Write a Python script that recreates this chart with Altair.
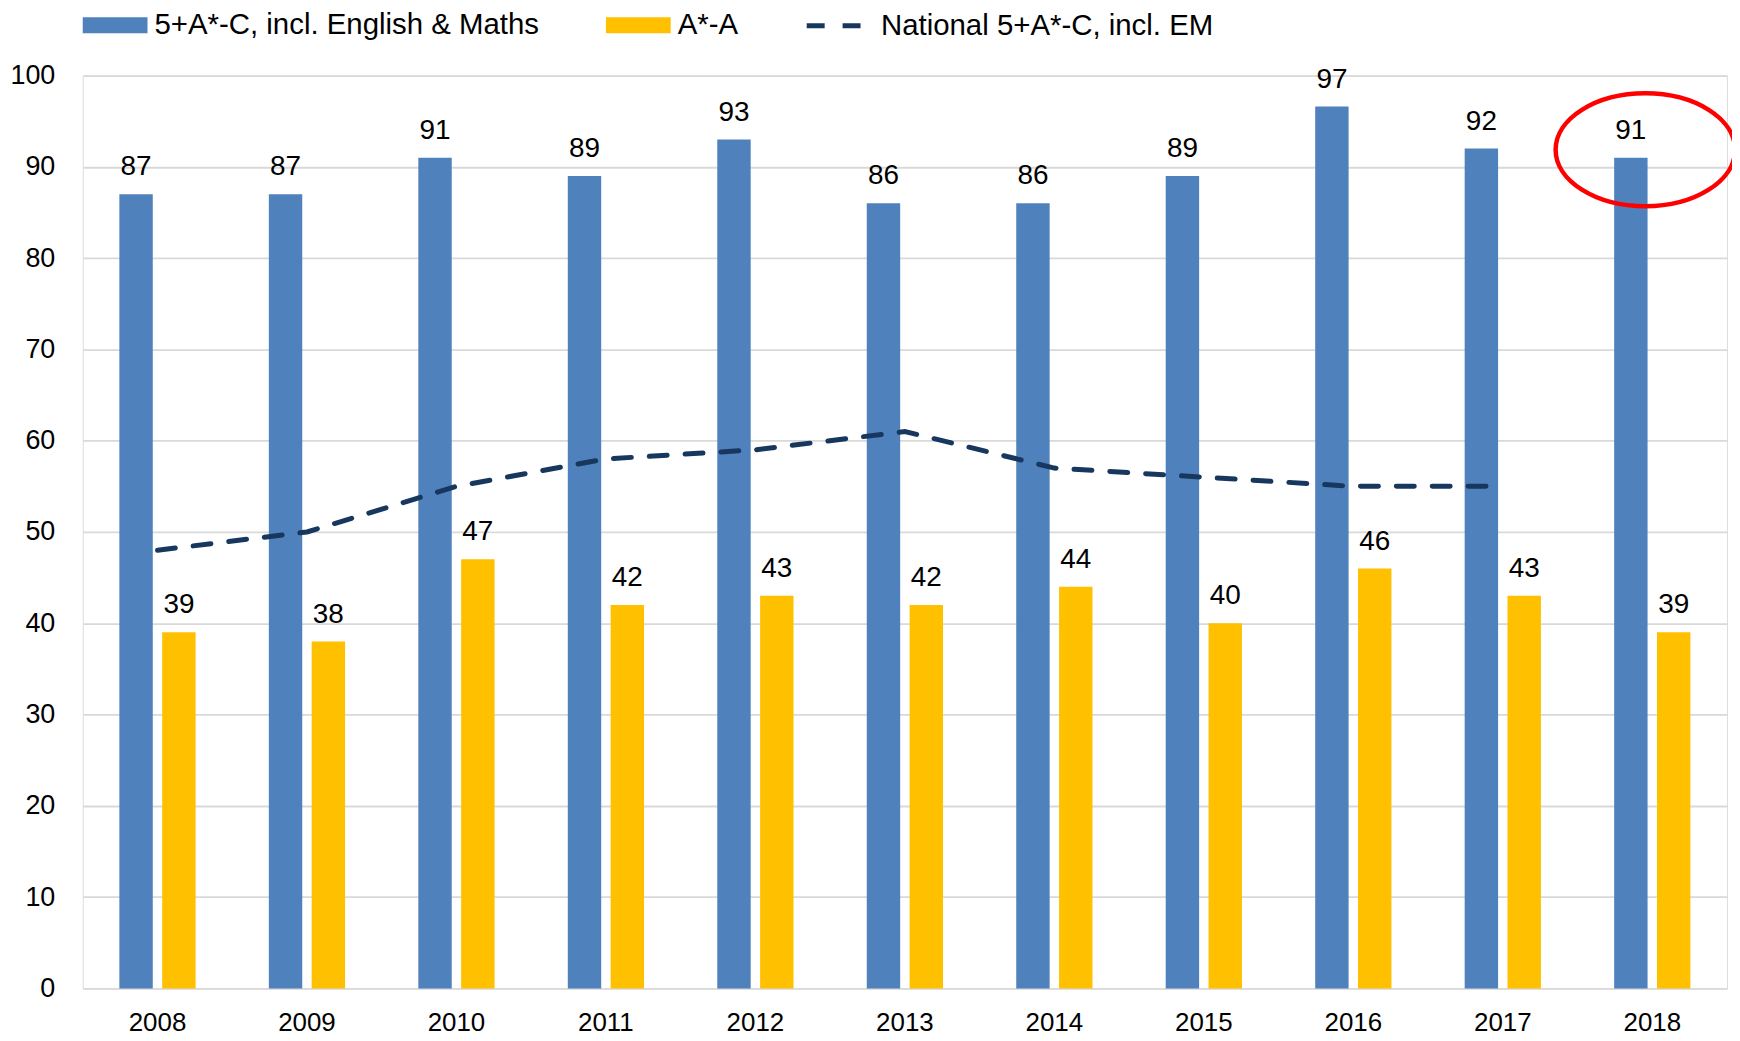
import altair as alt
import pandas as pd

years = ["2008", "2009", "2010", "2011", "2012", "2013", "2014", "2015", "2016", "2017", "2018"]
pass_em = [87, 87, 91, 89, 93, 86, 86, 89, 96.6, 92, 91]
astar_a = [39, 38, 47, 42, 43, 42, 44, 40, 46, 43, 39]
national_years = ["2008", "2009", "2010", "2011", "2012", "2013", "2014", "2015", "2016", "2017"]
national = [48, 50, 55, 58, 59, 61, 57, 56, 55, 55]
highlight_year = "2018"

S1 = "5+A*-C, incl. English & Maths"
S2 = "A*-A"
S3 = "National 5+A*-C, incl. EM"

FONT = "Liberation Sans"
BLUE = "#4F81BD"
ORANGE = "#FFC000"
NAVY = "#17375E"
GRID = "#D9D9D9"

bars_df = pd.DataFrame(
    [{"year": y, "series": S1, "value": v} for y, v in zip(years, pass_em)]
    + [{"year": y, "series": S2, "value": v} for y, v in zip(years, astar_a)]
)
line_df = pd.DataFrame({"year": national_years, "value": national, "series": [S3] * len(national)})

x_enc = alt.X(
    "year:N",
    sort=years,
    scale=alt.Scale(domain=years, paddingInner=0, paddingOuter=0),
    axis=alt.Axis(
        title=None, labelAngle=0, labelFont=FONT, labelFontSize=26, labelColor="#000000",
        labelPadding=21, ticks=False, domain=False, grid=False,
    ),
)
y_enc = alt.Y(
    "value:Q",
    scale=alt.Scale(domain=[0, 100], nice=False),
    axis=alt.Axis(
        title=None, values=list(range(0, 101, 10)), labelFont=FONT, labelFontSize=27,
        labelColor="#000000", labelPadding=28, ticks=False, domain=False,
        grid=True, gridColor=GRID, gridWidth=1.8,
    ),
)
xoff = alt.XOffset(
    "series:N",
    sort=[S1, S2],
    scale=alt.Scale(domain=[S1, S2], paddingInner=0.22, paddingOuter=0.855),
)

base = alt.Chart(bars_df)

bars = base.mark_bar().encode(
    x=x_enc,
    y=y_enc,
    xOffset=xoff,
    color=alt.Color(
        "series:N",
        scale=alt.Scale(domain=[S1, S2], range=[BLUE, ORANGE]),
        legend=alt.Legend(
            title=None, orient="none", legendX=0, legendY=-83, direction="horizontal",
            symbolType="M-1,-0.25H1V0.25H-1Z", symbolSize=4225, symbolStrokeWidth=0,
            labelFont=FONT, labelFontSize=29.5, labelColor="#000000", labelOffset=7,
            labelLimit=0, columnPadding=66, symbolOpacity=1,
        ),
    ),
)

labels = base.mark_text(font=FONT, fontSize=28, color="#000000", baseline="alphabetic", dy=-19).encode(
    x=x_enc,
    y=alt.Y("value:Q"),
    xOffset=xoff,
    text=alt.Text("value:Q", format=".0f"),
)

line = alt.Chart(line_df).mark_line(
    color=NAVY, strokeWidth=5, strokeCap="round"
).encode(
    x=alt.X("year:N", sort=years),
    y=alt.Y("value:Q"),
    strokeDash=alt.StrokeDash(
        "series:N",
        scale=alt.Scale(domain=[S3], range=[[18, 18]]),
        legend=alt.Legend(
            title=None, orient="none", legendX=721, legendY=-85, direction="horizontal",
            symbolType="stroke", symbolSize=4225, symbolStrokeColor=NAVY, symbolStrokeWidth=5,
            symbolDash=[14, 20], symbolDashOffset=-3,
            labelFont=FONT, labelFontSize=29.5, labelColor="#000000", labelOffset=10,
            labelLimit=0,
        ),
    ),
)

ellipse = base.transform_filter(
    (alt.datum.year == highlight_year) & (alt.datum.series == S1)
).mark_point(
    shape="M -1 0 A 1 0.63 0 1 0 1 0 A 1 0.63 0 1 0 -1 0 Z",
    size=32400, filled=False, stroke="#FF0000", strokeWidth=4.5, opacity=1,
    xOffset=-7, yOffset=-8,
).encode(
    x=alt.X("year:N", sort=years),
    y=alt.Y("value:Q"),
)

chart = alt.layer(bars, labels, line, ellipse).resolve_scale(color="independent").properties(
    width=1650,
    height=916,
    autosize=alt.AutoSizeParams(type="none"),
    padding={"left": 75, "top": 66, "right": 5, "bottom": 45},
).configure_view(stroke=None).configure(background="#FFFFFF")

chart.save("out.html", embed_options={"renderer": "svg", "actions": False})
